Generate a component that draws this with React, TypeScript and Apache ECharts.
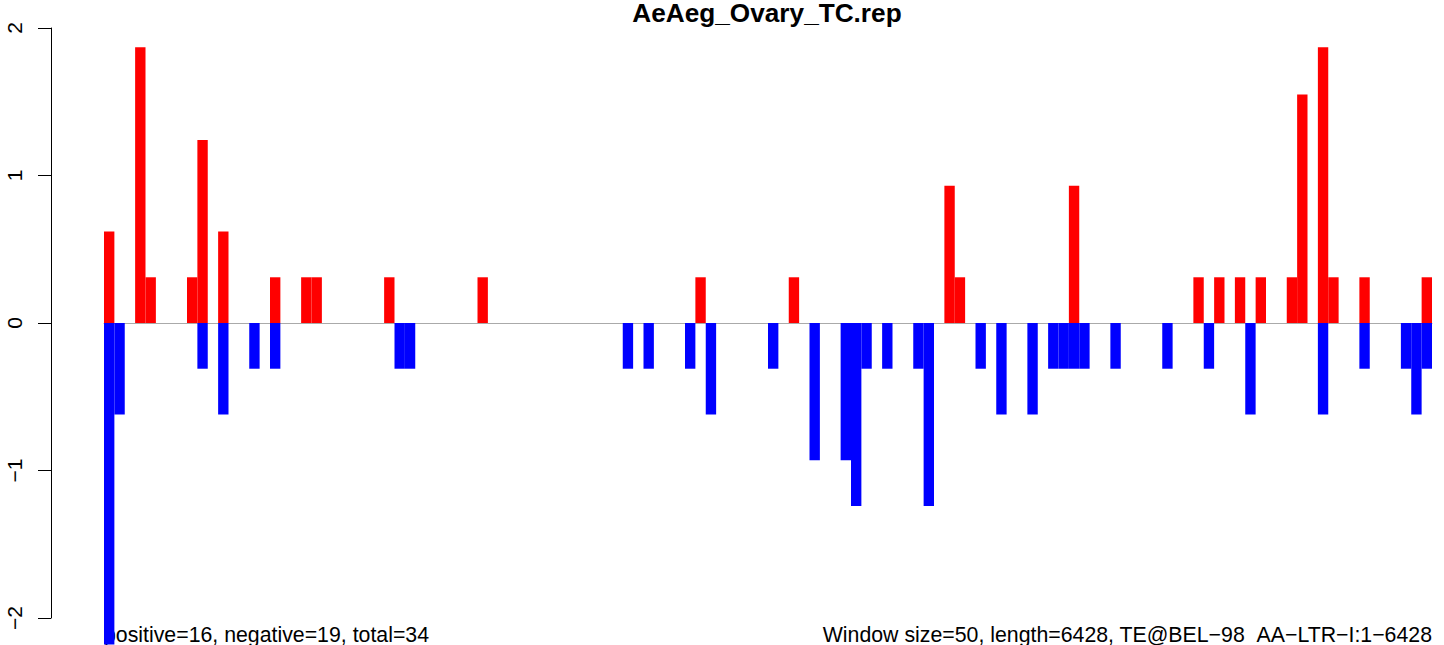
import React, { useEffect, useRef } from "react";
import * as echarts from "echarts";

// Windows (1-based bins along the sequence, window size 50, length 6428 -> 128 windows)
const windowCount = 128;
const categories: string[] = Array.from({ length: windowCount }, (_, i) => String(i + 1));

// Positive (red) bars: window index (0-based) and value
const posWindows = [0, 3, 4, 8, 9, 11, 16, 19, 20, 27, 36, 57, 66, 81, 82, 93, 105, 107, 109, 111, 114, 115, 117, 118, 121, 127];
const posValues = [0.62, 1.87, 0.31, 0.31, 1.24, 0.62, 0.31, 0.31, 0.31, 0.31, 0.31, 0.31, 0.31, 0.93, 0.31, 0.93, 0.31, 0.31, 0.31, 0.31, 0.31, 1.55, 1.87, 0.31, 0.31, 0.31];

// Negative (blue) bars: window index (0-based) and value
const negWindows = [0, 1, 9, 11, 14, 16, 28, 29, 50, 52, 56, 58, 64, 68, 71, 72, 73, 75, 78, 79, 84, 86, 89, 91, 92, 93, 94, 97, 102, 106, 110, 117, 121, 125, 126, 127];
const negValues = [-2.18, -0.62, -0.31, -0.62, -0.31, -0.31, -0.31, -0.31, -0.31, -0.31, -0.31, -0.62, -0.31, -0.93, -0.93, -1.24, -0.31, -0.31, -0.31, -1.24, -0.31, -0.62, -0.62, -0.31, -0.31, -0.31, -0.31, -0.31, -0.31, -0.31, -0.62, -0.62, -0.31, -0.31, -0.62, -0.31];

const yTicks = [-2, -1, 0, 1, 2];

const titleText = "AeAeg_Ovary_TC.rep";
const leftNote = "positive=16, negative=19, total=34";
const rightNote = "Window size=50, length=6428, TE@BEL\u221298\u00a0\u00a0AA\u2212LTR\u2212I:1\u22126428";

const FONT = '"Liberation Sans", Arial, Helvetica, sans-serif';

function buildSeries(idx: number[], vals: number[]): (number | null)[] {
  const arr: (number | null)[] = categories.map(() => null);
  idx.forEach((w, k) => {
    arr[w] = vals[k];
  });
  return arr;
}

export default function App() {
  const ref = useRef<HTMLDivElement>(null);

  useEffect(() => {
    if (!ref.current) return;
    const chart = echarts.init(ref.current, undefined, { renderer: "svg" });
    const posData = buildSeries(posWindows, posValues);
    const negData = buildSeries(negWindows, negValues);

    chart.setOption({
      animation: false,
      backgroundColor: "#ffffff",
      grid: { left: 104, right: 12, top: 28, bottom: 27, containLabel: false },
      xAxis: {
        type: "category",
        data: categories,
        boundaryGap: true,
        axisLine: { show: true, onZero: true, lineStyle: { color: "#aaaaaa", width: 1 } },
        axisTick: { show: false },
        axisLabel: { show: false },
        splitLine: { show: false },
      },
      yAxis: {
        type: "value",
        min: yTicks[0],
        max: yTicks[yTicks.length - 1],
        interval: 1,
        offset: 53,
        axisLine: { show: true, lineStyle: { color: "#000000", width: 1 } },
        axisTick: { show: true, inside: false, length: 13, lineStyle: { color: "#000000", width: 1 } },
        axisLabel: {
          rotate: 90,
          margin: 26,
          fontSize: 21,
          fontFamily: FONT,
          color: "#000000",
          formatter: (v: number) => String(v).replace("-", "\u2212"),
        },
        splitLine: { show: false },
      },
      series: [
        {
          type: "bar",
          name: "positive",
          data: posData,
          itemStyle: { color: "#ff0000" },
          barGap: "-100%",
          barCategoryGap: "0%",
          clip: false,
        },
        {
          type: "bar",
          name: "negative",
          data: negData,
          itemStyle: { color: "#0000ff" },
          barGap: "-100%",
          barCategoryGap: "0%",
          clip: false,
        },
      ],
      graphic: [
        {
          type: "text",
          x: 767,
          y: 13,
          style: {
            text: titleText,
            font: `bold 26.2px ${FONT}`,
            fill: "#000000",
            align: "center",
            verticalAlign: "middle",
            textAlign: "center",
            textVerticalAlign: "middle",
          },
        },
        {
          type: "text",
          x: 104,
          y: 635,
          style: {
            text: leftNote,
            font: `21.3px ${FONT}`,
            fill: "#000000",
            align: "left",
            verticalAlign: "middle",
            textAlign: "left",
            textVerticalAlign: "middle",
          },
        },
        {
          type: "text",
          x: 1432,
          y: 635,
          style: {
            text: rightNote,
            font: `21.3px ${FONT}`,
            fill: "#000000",
            align: "right",
            verticalAlign: "middle",
            textAlign: "right",
            textVerticalAlign: "middle",
          },
        },
      ],
    });

    return () => {
      chart.dispose();
    };
  }, []);

  return (
    <div
      ref={ref}
      style={{ position: "fixed", left: 0, top: 0, width: 1444, height: 645, background: "#fff" }}
    />
  );
}
